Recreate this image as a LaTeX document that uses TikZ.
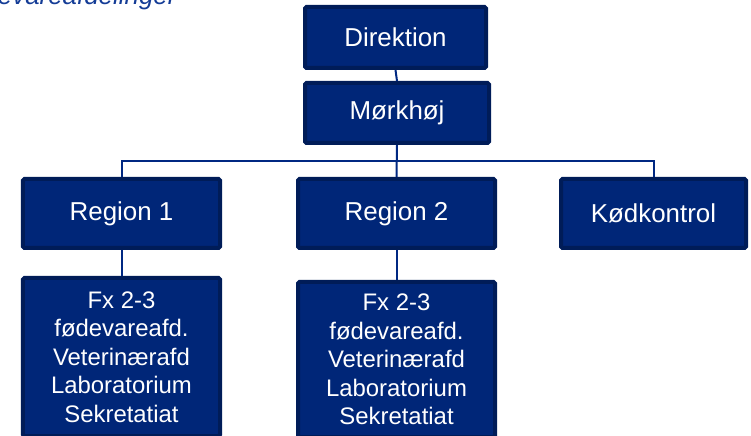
\documentclass[tikz,border=0pt]{standalone}
\usepackage{fontspec}
\setmainfont{Liberation Sans}
\usepackage{tikz}

\definecolor{boxfill}{RGB}{0,38,120}
\definecolor{boxedge}{RGB}{0,28,88}
\definecolor{linkblue}{RGB}{0,40,130}
\definecolor{titleblue}{RGB}{20,60,150}

\tikzset{
	unit/.style={draw=boxedge, line width=4bp, fill=boxfill, rounded corners=1.5bp,
		text=white, inner sep=0pt, font={\fontsize{26}{29}\selectfont}},
	staff/.style={unit, align=center, font={\fontsize{24}{28.5}\selectfont}},
	link/.style={draw=linkblue, line width=2bp},
}

\begin{document}
\begin{tikzpicture}[x=1bp, y=-1bp]
		\useasboundingbox (0,0) rectangle (751,436);
		\clip (0,0) rectangle (751,436);
		\node[anchor=base east, text=titleblue, font={\fontsize{26}{29}\selectfont\itshape}] (title) at (180,5) {Fødevareafdelinger};
		\node[unit, minimum width=181bp, minimum height=61bp] (dir) at (395.5,37.5) {Direktion};
		\node[unit, minimum width=184bp, minimum height=60bp] (mork) at (397,113) {Mørkhøj};
		\node[unit, minimum width=197bp, minimum height=69bp] (reg1) at (121.5,213.5) {Region 1};
		\node[unit, minimum width=197bp, minimum height=69bp] (reg2) at (396.5,213.5) {Region 2};
		\node[unit, minimum width=185bp, minimum height=69bp] (kod) at (653.5,213.5) {Kødkontrol};
		\node[staff, minimum width=197bp, minimum height=158bp] (afd1) at (121.5,357) {Fx 2-3\\fødevareafd.\\Veterinærafd\\Laboratorium\\Sekretatiat};
		\node[staff, minimum width=197bp, minimum height=155bp] (afd2) at (396.5,359.5) {Fx 2-3\\fødevareafd.\\Veterinærafd\\Laboratorium\\Sekretatiat};
		\coordinate (bus) at (397,161);
		\draw[link] (dir.south) -- (mork.north);
		\draw[link] (mork.south) -- (reg2.north);
		\draw[link] (reg1.north) |- (bus) -| (kod.north);
		\draw[link] (reg1.south) -- (afd1.north);
		\draw[link] (reg2.south) -- (afd2.north);
\end{tikzpicture}
\end{document}
